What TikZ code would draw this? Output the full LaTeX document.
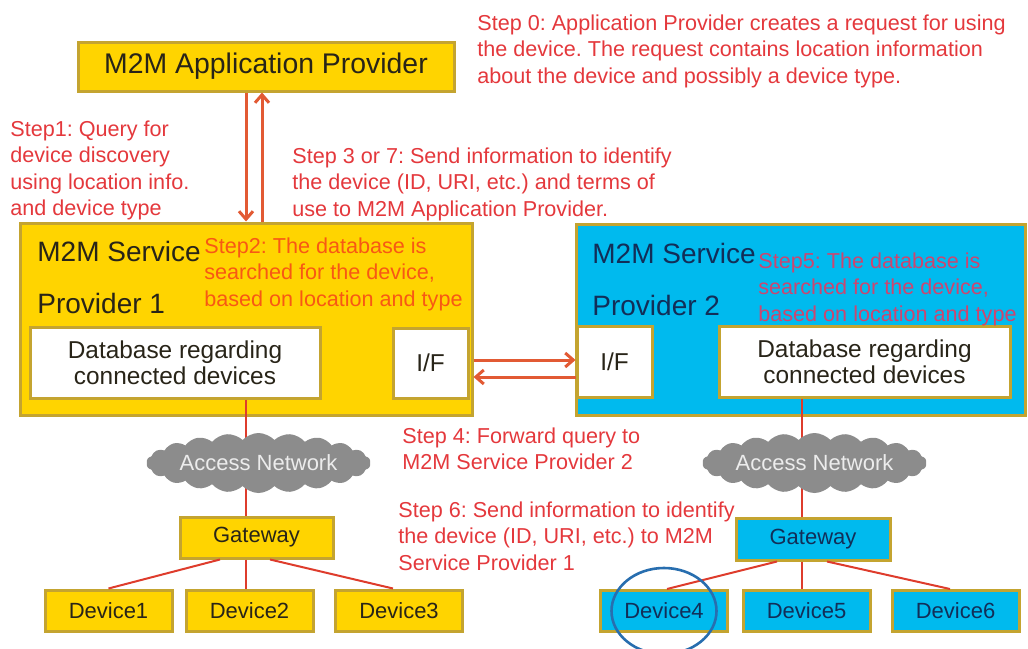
\documentclass[tikz,border=0pt]{standalone}
\usepackage{fontspec}
\setmainfont{Liberation Sans}
\usepackage{tikz}
\usetikzlibrary{shapes.symbols,arrows.meta}
\frenchspacing
\definecolor{m2m-yellow}{RGB}{255,212,0}
\definecolor{m2m-cyan}{RGB}{0,186,238}
\definecolor{box-edge}{RGB}{196,164,48}
\definecolor{dark-text}{RGB}{40,36,24}
\definecolor{navy-text}{RGB}{18,46,88}
\definecolor{step-red}{RGB}{228,56,60}
\definecolor{step-orange}{RGB}{248,88,20}
\definecolor{step-mauve}{RGB}{204,70,112}
\definecolor{arrow-red}{RGB}{226,90,52}
\definecolor{wire-red}{RGB}{222,60,44}
\definecolor{cloud-gray}{RGB}{140,140,140}
\definecolor{cloud-text}{RGB}{236,236,236}
\definecolor{ring-blue}{RGB}{40,110,175}

\begin{document}
\begin{tikzpicture}
[
  x=0.5pt, y=-0.5pt,
  ybox/.style={rectangle,draw=box-edge,line width=1.5pt,fill=m2m-yellow,text=dark-text,inner sep=0pt},
  cbox/.style={rectangle,draw=box-edge,line width=1.5pt,fill=m2m-cyan,text=navy-text,inner sep=0pt},
  wbox/.style={rectangle,draw=box-edge,line width=1.5pt,fill=white,text=dark-text,inner sep=0pt,align=center,font=\fontsize{12.2}{13}\selectfont},
  devbox/.style={minimum width=63.5pt,minimum height=20.5pt,font=\fontsize{11}{13}\selectfont},
  title/.style={anchor=north west,align=left,inner sep=0pt,font=\fontsize{14}{26}\selectfont},
  note/.style={anchor=north west,align=left,inner sep=0pt,text=step-red,font=\fontsize{10.8}{13.25}\selectfont},
  flow/.style={draw=arrow-red,line width=1.5pt,-{Straight Barb[length=4pt,width=7pt]}},
  wire/.style={draw=wire-red,line width=1pt},
  net/.style={cloud,cloud puffs=22,cloud puff arc=95,cloud ignores aspect,fill=cloud-gray,text=cloud-text,minimum width=112pt,minimum height=30pt,inner sep=0pt,font=\fontsize{11}{13}\selectfont},
]
\useasboundingbox (0,0) rectangle (1028,648);

% application provider
\node[ybox,minimum width=188pt,minimum height=24.5pt,font=\fontsize{14.2}{17}\selectfont] (app) at (266,66.5) {M2M Application Provider};

% service provider 1
\node[ybox,minimum width=226pt,minimum height=96pt] (sp1) at (246,319) {};
\node[title,text=dark-text] (sp1name) at (37,241) {M2M Service\\Provider 1};
\node[wbox,minimum width=145pt,minimum height=35.5pt] (db1) at (175,362.5) {Database regarding\\connected devices};
\node[wbox,minimum width=37.5pt,minimum height=35pt] (if1) at (430.5,363) {I/F};

% service provider 2
\node[cbox,minimum width=224.5pt,minimum height=95.5pt] (sp2) at (800.5,319.5) {};
\node[title,text=navy-text] (sp2name) at (592,243) {M2M Service\\Provider 2};
\node[wbox,minimum width=37.5pt,minimum height=35.5pt] (if2) at (614.5,361.5) {I/F};
\node[wbox,minimum width=145.5pt,minimum height=35.5pt] (db2) at (864.5,361.5) {Database regarding\\connected devices};

% gateways and devices
\node[ybox,minimum width=76.5pt,minimum height=20.5pt,font=\fontsize{11}{13}\selectfont] (gw1) at (256.5,537.5) {Gateway};
\node[ybox,devbox] (d1) at (108.5,610.5) {Device1};
\node[ybox,devbox] (d2) at (249.5,610.5) {Device2};
\node[ybox,devbox] (d3) at (399,610.5) {Device3};

\node[cbox,minimum width=77pt,minimum height=21pt,font=\fontsize{11}{13}\selectfont] (gw2) at (813,539) {Gateway};
\node[cbox,devbox] (d4) at (664,611) {Device4};
\node[cbox,devbox] (d5) at (806.5,611) {Device5};
\node[cbox,devbox] (d6) at (955.5,611) {Device6};

% links
\draw[wire] (db1.south -| 246,0) -- (gw1.north -| 246,0);
\draw[wire] (db2.south -| 802,0) -- (gw2.north -| 802,0);
\node[net] (an1) at (258.5,463) {Access Network};
\node[net] (an2) at (814.5,463) {Access Network};

\draw[wire] (gw1.south -| 220,0) -- (d1.north);
\draw[wire] (gw1.south -| 246,0) -- (d2.north -| 246,0);
\draw[wire] (gw1.south -| 270,0) -- (d3.north -| 393,0);
\draw[wire] (gw2.south -| 777,0) -- (d4.north -| 667,0);
\draw[wire] (gw2.south -| 802,0) -- (d5.north -| 802,0);
\draw[wire] (gw2.south -| 827,0) -- (d6.north -| 950,0);

% message flows
\draw[flow] (app.south -| 246,0) -- (sp1.north -| 246,0);
\draw[flow] (sp1.north -| 262,0) -- (app.south -| 262,0);
\draw[flow] (sp1.east |- 0,360) -- (if2.west |- 0,360);
\draw[flow] (if2.west |- 0,377) -- (sp1.east |- 0,377);

% the device found
\draw[draw=ring-blue,line width=1.3pt] (d4.center) ellipse [x radius=26.25pt, y radius=21.5pt];

% steps
\node[note] (step0) at (477,14) {Step 0: Application Provider creates a request for using\\the device. The request contains location information\\about the device and possibly a device type.};
\node[note] (step1) at (10,120) {Step1: Query for\\device discovery\\using location info.\\and device type};
\node[note,text=step-orange] (step2) at (204,237) {Step2: The database is\\searched for the device,\\based on location and type};
\node[note] (step3) at (292,147) {Step 3 or 7: Send information to identify\\the device (ID, URI, etc.) and terms of\\use to M2M Application Provider.};
\node[note] (step4) at (402,427) {Step 4: Forward query to\\M2M Service Provider 2};
\node[note,text=step-mauve] (step5) at (758,252) {Step5: The database is\\searched for the device,\\based on location and type};
\node[note] (step6) at (398,501) {Step 6: Send information to identify\\the device (ID, URI, etc.) to M2M\\Service Provider 1};
\end{tikzpicture}
\end{document}
